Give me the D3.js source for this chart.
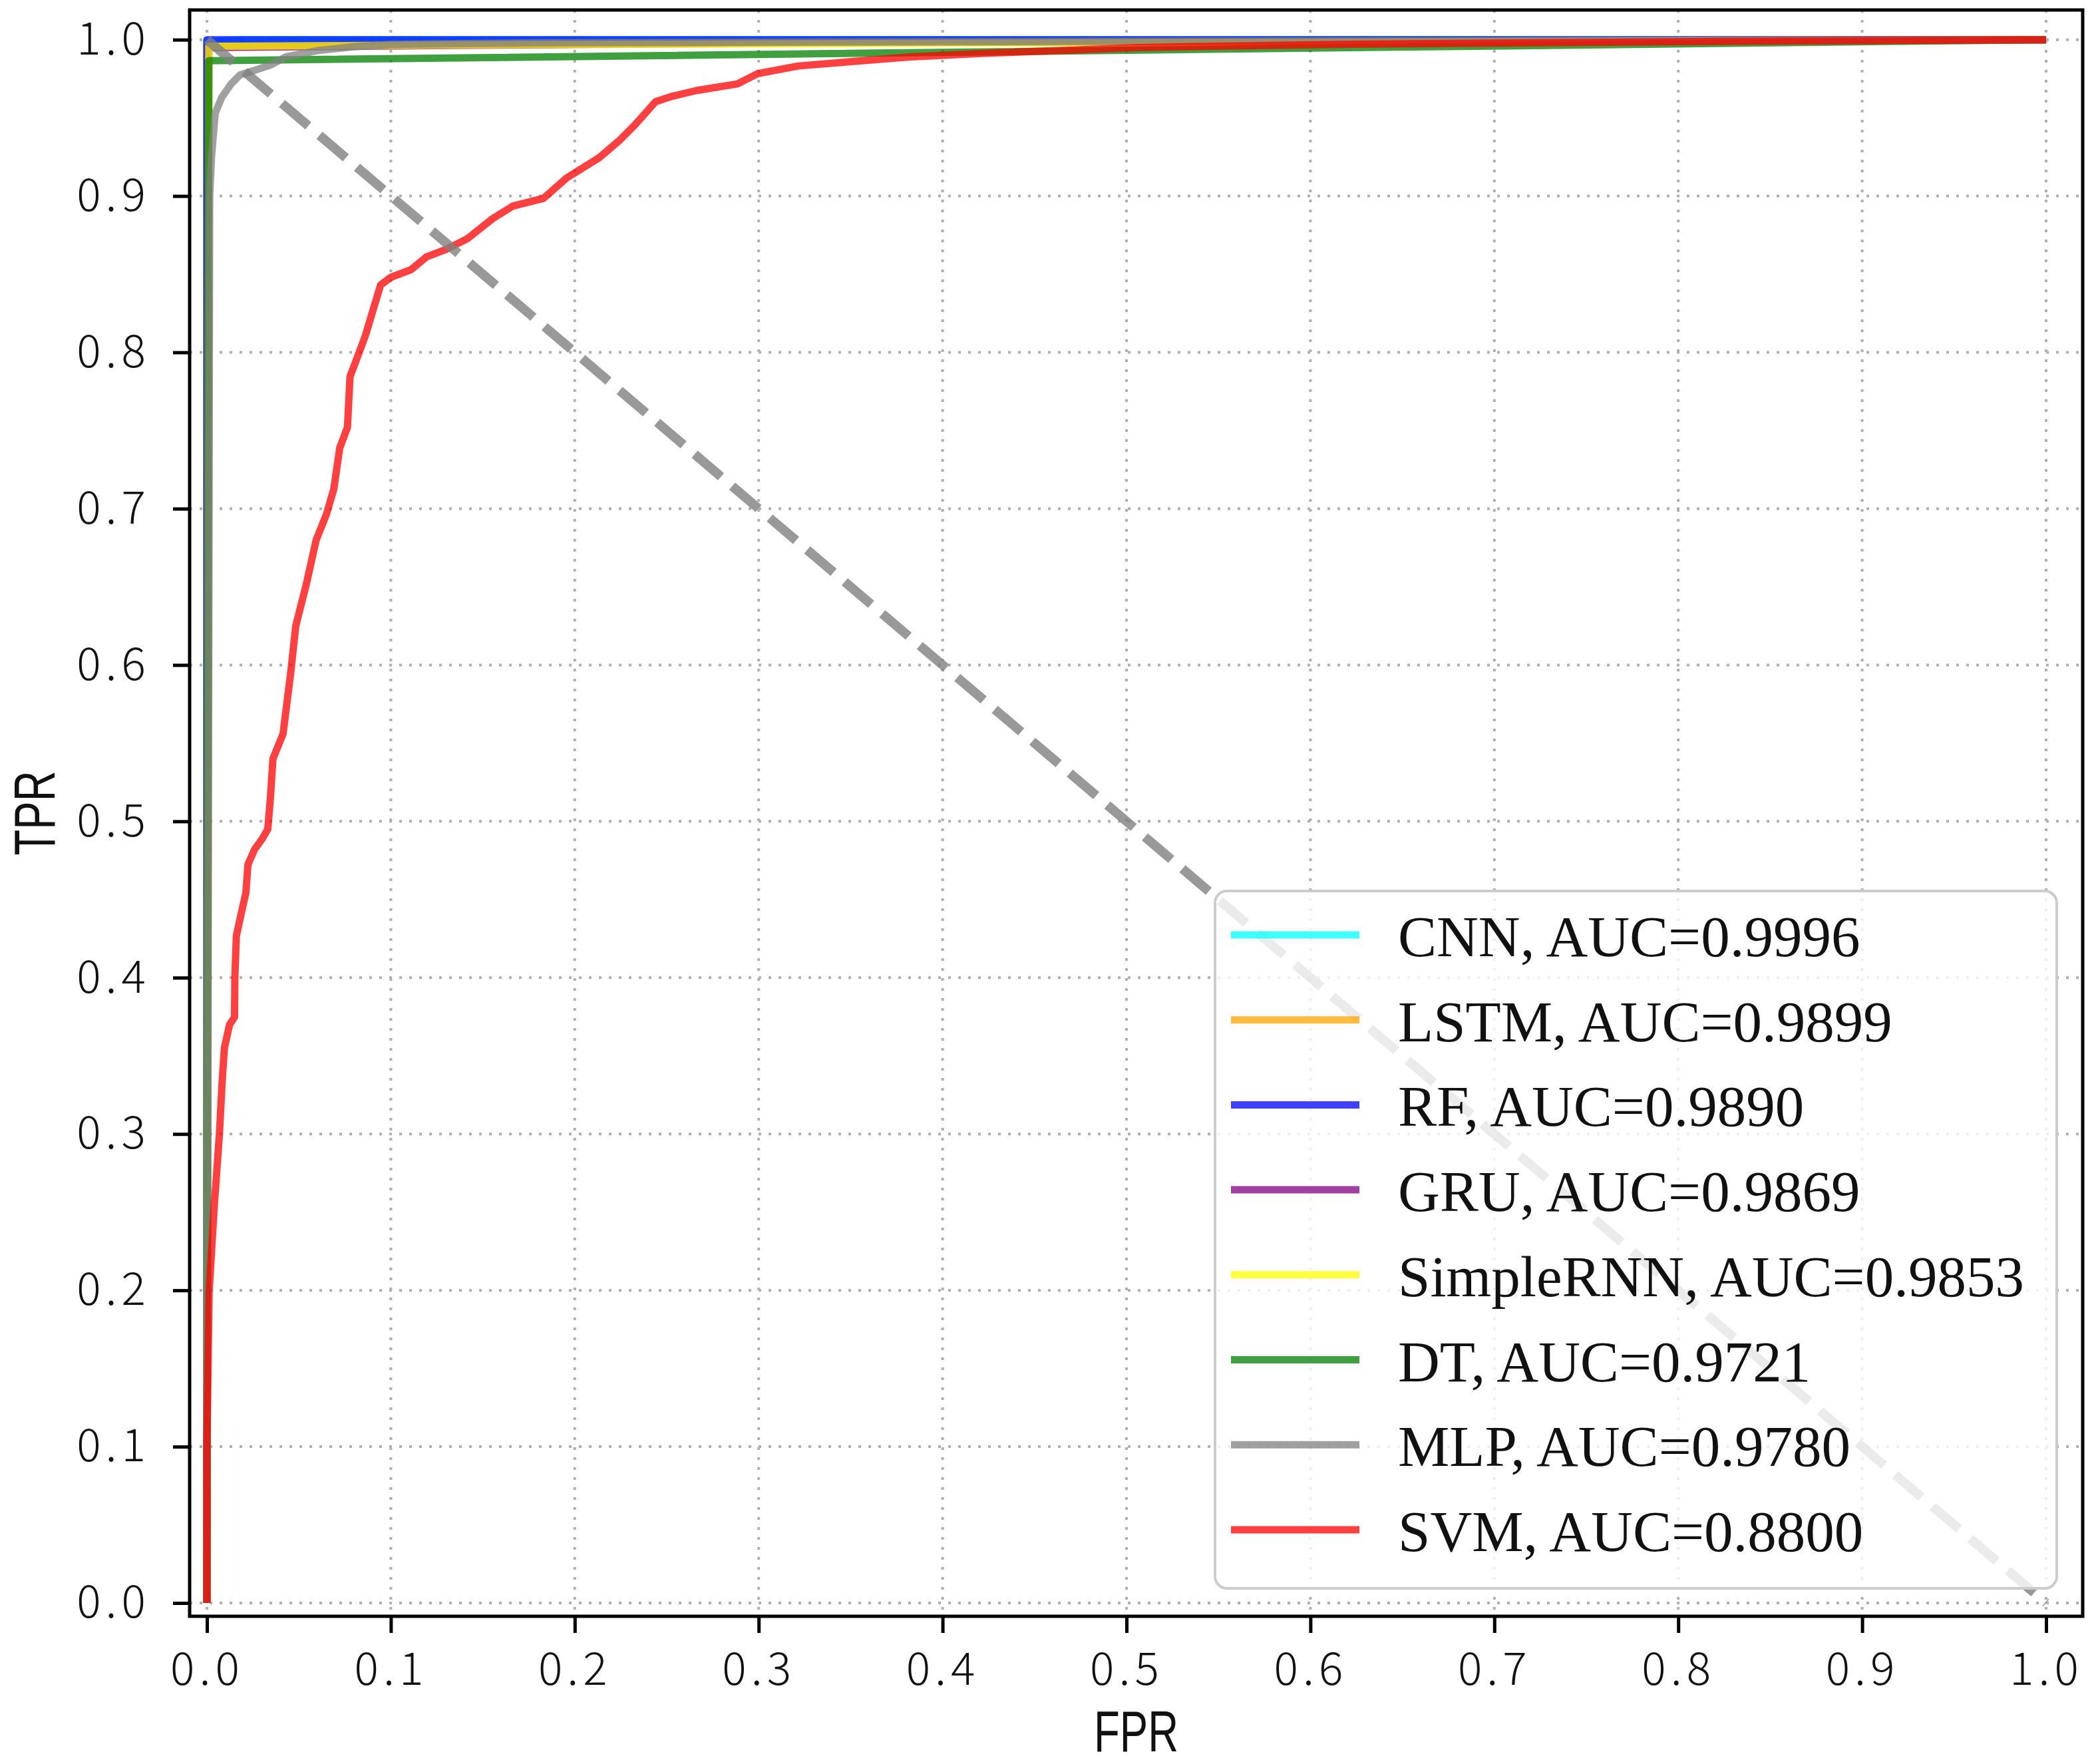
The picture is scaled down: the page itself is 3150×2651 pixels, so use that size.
<!DOCTYPE html>
<html>
<head>
<meta charset="utf-8">
<script src="https://cdn.jsdelivr.net/npm/d3@7/dist/d3.min.js"></script>
<style>
  body { margin: 0; background: #fff; }
</style>
</head>
<body>
<svg id="roc" width="3150" height="2651"></svg>
<script>
const MODELS = ['CNN', 'LSTM', 'RF', 'GRU', 'SimpleRNN', 'DT', 'MLP', 'SVM'];
const AUC = [0.9996, 0.9899, 0.9890, 0.9869, 0.9853, 0.9721, 0.9780, 0.8800];

const FPR_CNN = [0, 0, 0.02, 1];
const TPR_CNN = [0, 0.999, 1, 1];
const FPR_LSTM = [0, 0, 0.18, 0.5, 1];
const TPR_LSTM = [0, 0.9962, 0.9968, 0.999, 1];
const FPR_RF = [0, 0, 1];
const TPR_RF = [0, 1, 1];
const FPR_GRU = [0, 0.001, 0.3, 1];
const TPR_GRU = [0, 0.995, 0.998, 1];
const FPR_RNN = [0, 0.001, 0.15, 1];
const TPR_RNN = [0, 0.9958, 0.9968, 1];
const FPR_DT = [0, 0.001, 1];
const TPR_DT = [0, 0.9865, 1];
const FPR_MLP = [0, 0.0015, 0.0025, 0.0045, 0.008, 0.013, 0.018, 0.025, 0.035, 0.043, 0.06, 0.08, 0.1, 0.18, 0.5, 1];
const TPR_MLP = [0, 0.9, 0.925, 0.953, 0.963, 0.9715, 0.9775, 0.98, 0.984, 0.989, 0.993, 0.9955, 0.997, 0.998, 0.999, 1];
const FPR_SVM = [0, 0, 0.0012, 0.004, 0.0068, 0.0082, 0.0095, 0.0123, 0.015, 0.0152, 0.016, 0.019, 0.0212, 0.0223,
  0.0259, 0.030, 0.0331, 0.0345, 0.0359, 0.0414, 0.0456, 0.0483, 0.0539, 0.0594, 0.065, 0.069, 0.0722, 0.0764,
  0.0778, 0.082, 0.0861, 0.0903, 0.0944, 0.100, 0.111, 0.1193, 0.1304, 0.1415, 0.1553, 0.1664, 0.183, 0.1955,
  0.2134, 0.2246, 0.2329, 0.244, 0.2523, 0.2662, 0.2884, 0.2995, 0.3216, 0.3494, 0.3826, 0.4237, 0.506, 0.615,
  0.83, 1];
const TPR_SVM = [0, 0.101, 0.199, 0.254, 0.300, 0.332, 0.355, 0.370, 0.3746, 0.4006, 0.4267, 0.443, 0.4544, 0.4724,
  0.482, 0.4887, 0.495, 0.5147, 0.540, 0.556, 0.5956, 0.625, 0.651, 0.680, 0.6965, 0.7127, 0.7388, 0.752,
  0.7845, 0.7975, 0.8105, 0.827, 0.843, 0.848, 0.8529, 0.861, 0.866, 0.8726, 0.8855, 0.8936, 0.8985, 0.9115,
  0.9246, 0.9359, 0.9457, 0.9604, 0.9636, 0.9675, 0.9717, 0.9783, 0.9832, 0.9859, 0.989, 0.9913, 0.995, 0.997,
  0.999, 1];

const CURVES = [
  [FPR_CNN, TPR_CNN], [FPR_LSTM, TPR_LSTM], [FPR_RF, TPR_RF], [FPR_GRU, TPR_GRU],
  [FPR_RNN, TPR_RNN], [FPR_DT, TPR_DT], [FPR_MLP, TPR_MLP], [FPR_SVM, TPR_SVM]
];

const CHANCE_FPR = [0, 1];
const CHANCE_TPR = [1, 0];

const X_TICKS = [0, 0.1, 0.2, 0.3, 0.4, 0.5, 0.6, 0.7, 0.8, 0.9, 1.0];
const Y_TICKS = [0, 0.1, 0.2, 0.3, 0.4, 0.5, 0.6, 0.7, 0.8, 0.9, 1.0];

const COLORS = ['cyan', 'orange', 'blue', 'purple', 'yellow', 'green', 'gray', 'red'];

function drawRoc() {
  const svg = d3.select('#roc');
  const frame = { left: 285, right: 3130, top: 15, bottom: 2429 };
  const tickFont = '"Noto Sans CJK SC", "DejaVu Sans", sans-serif';
  const labelFont = '"Liberation Sans", Arial, sans-serif';

  const x = d3.scaleLinear().domain([-0.0094, 1.0199]).range([frame.left, frame.right]);
  const y = d3.scaleLinear().domain([-0.0085, 1.019]).range([frame.bottom, frame.top]);

  svg.append('rect').attr('width', 3150).attr('height', 2651).attr('fill', '#fff');

  svg.append('defs').append('clipPath').attr('id', 'plot-clip')
    .append('rect')
    .attr('x', frame.left).attr('y', frame.top)
    .attr('width', frame.right - frame.left).attr('height', frame.bottom - frame.top);

  // dotted grid under the curves
  const grid = svg.append('g')
    .attr('stroke', '#b0b0b0')
    .attr('stroke-width', 4)
    .attr('stroke-dasharray', '4,11');
  grid.selectAll('line.gx').data(X_TICKS).enter().append('line')
    .attr('x1', d => x(d)).attr('x2', d => x(d))
    .attr('y1', frame.top).attr('y2', frame.bottom);
  grid.selectAll('line.gy').data(Y_TICKS).enter().append('line')
    .attr('y1', d => y(d)).attr('y2', d => y(d))
    .attr('x1', frame.left).attr('x2', frame.right);

  const line = d3.line().x(d => x(d[0])).y(d => y(d[1]));

  const plot = svg.append('g').attr('clip-path', 'url(#plot-clip)');

  plot.selectAll('path.roc')
    .data(CURVES)
    .enter()
    .append('path')
    .attr('class', 'roc')
    .attr('fill', 'none')
    .attr('stroke', (d, i) => COLORS[i])
    .attr('stroke-opacity', 0.75)
    .attr('stroke-width', 11)
    .attr('stroke-linejoin', 'round')
    .attr('d', d => line(d3.zip(d[0], d[1])));

  plot.append('path')
    .attr('fill', 'none')
    .attr('stroke', 'gray')
    .attr('stroke-opacity', 0.8)
    .attr('stroke-width', 14)
    .attr('stroke-dasharray', '52,22')
    .attr('d', line(d3.zip(CHANCE_FPR, CHANCE_TPR)));

  // axes
  const xAxis = svg.append('g')
    .attr('transform', `translate(0,${frame.bottom})`)
    .call(d3.axisBottom(x).tickValues(X_TICKS).tickFormat(d3.format('.1f')).tickSize(25).tickPadding(30));
  const yAxis = svg.append('g')
    .attr('transform', `translate(${frame.left},0)`)
    .call(d3.axisLeft(y).tickValues(Y_TICKS).tickFormat(d3.format('.1f')).tickSize(25).tickPadding(34));

  [xAxis, yAxis].forEach(ax => {
    ax.select('.domain').remove();
    ax.selectAll('.tick line').attr('stroke', '#000').attr('stroke-width', 5);
    ax.selectAll('.tick text')
      .attr('fill', '#111')
      .style('font-family', tickFont)
      .style('font-weight', 300)
      .style('font-size', '68px')
      .style('letter-spacing', '7px');
  });

  svg.append('rect')
    .attr('x', frame.left).attr('y', frame.top)
    .attr('width', frame.right - frame.left).attr('height', frame.bottom - frame.top)
    .attr('fill', 'none')
    .attr('stroke', '#000')
    .attr('stroke-width', 5);

  svg.append('text')
    .text('FPR')
    .attr('x', (frame.left + frame.right) / 2)
    .attr('y', 2632)
    .attr('text-anchor', 'middle')
    .attr('textLength', 127)
    .attr('lengthAdjust', 'spacingAndGlyphs')
    .attr('fill', '#111')
    .style('font-family', labelFont)
    .style('font-size', '88px');

  svg.append('text')
    .text('TPR')
    .attr('transform', `translate(82,${(frame.top + frame.bottom) / 2}) rotate(-90)`)
    .attr('text-anchor', 'middle')
    .attr('textLength', 127)
    .attr('lengthAdjust', 'spacingAndGlyphs')
    .attr('fill', '#111')
    .style('font-family', labelFont)
    .style('font-size', '88px');

  // legend
  const legend = svg.append('g');
  legend.append('rect')
    .attr('x', 1826).attr('y', 1339)
    .attr('width', 1265).attr('height', 1048)
    .attr('rx', 18)
    .attr('fill', '#fff')
    .attr('fill-opacity', 0.8)
    .attr('stroke', '#cccccc')
    .attr('stroke-width', 4);

  const rows = legend.selectAll('g.row')
    .data(MODELS)
    .enter()
    .append('g')
    .attr('transform', (d, i) => `translate(0,${1405 + i * 127.7})`);

  rows.append('line')
    .attr('x1', 1850).attr('x2', 2043)
    .attr('stroke', (d, i) => COLORS[i])
    .attr('stroke-opacity', 0.75)
    .attr('stroke-width', 11);

  rows.append('text')
    .text((d, i) => `${d}, AUC=${AUC[i].toFixed(4)}`)
    .attr('x', 2101)
    .attr('y', 32)
    .attr('fill', '#111')
    .style('font-family', '"Liberation Serif", "Times New Roman", serif')
    .style('font-size', '87px');
}

window.addEventListener('DOMContentLoaded', drawRoc);
</script>
</body>
</html>
